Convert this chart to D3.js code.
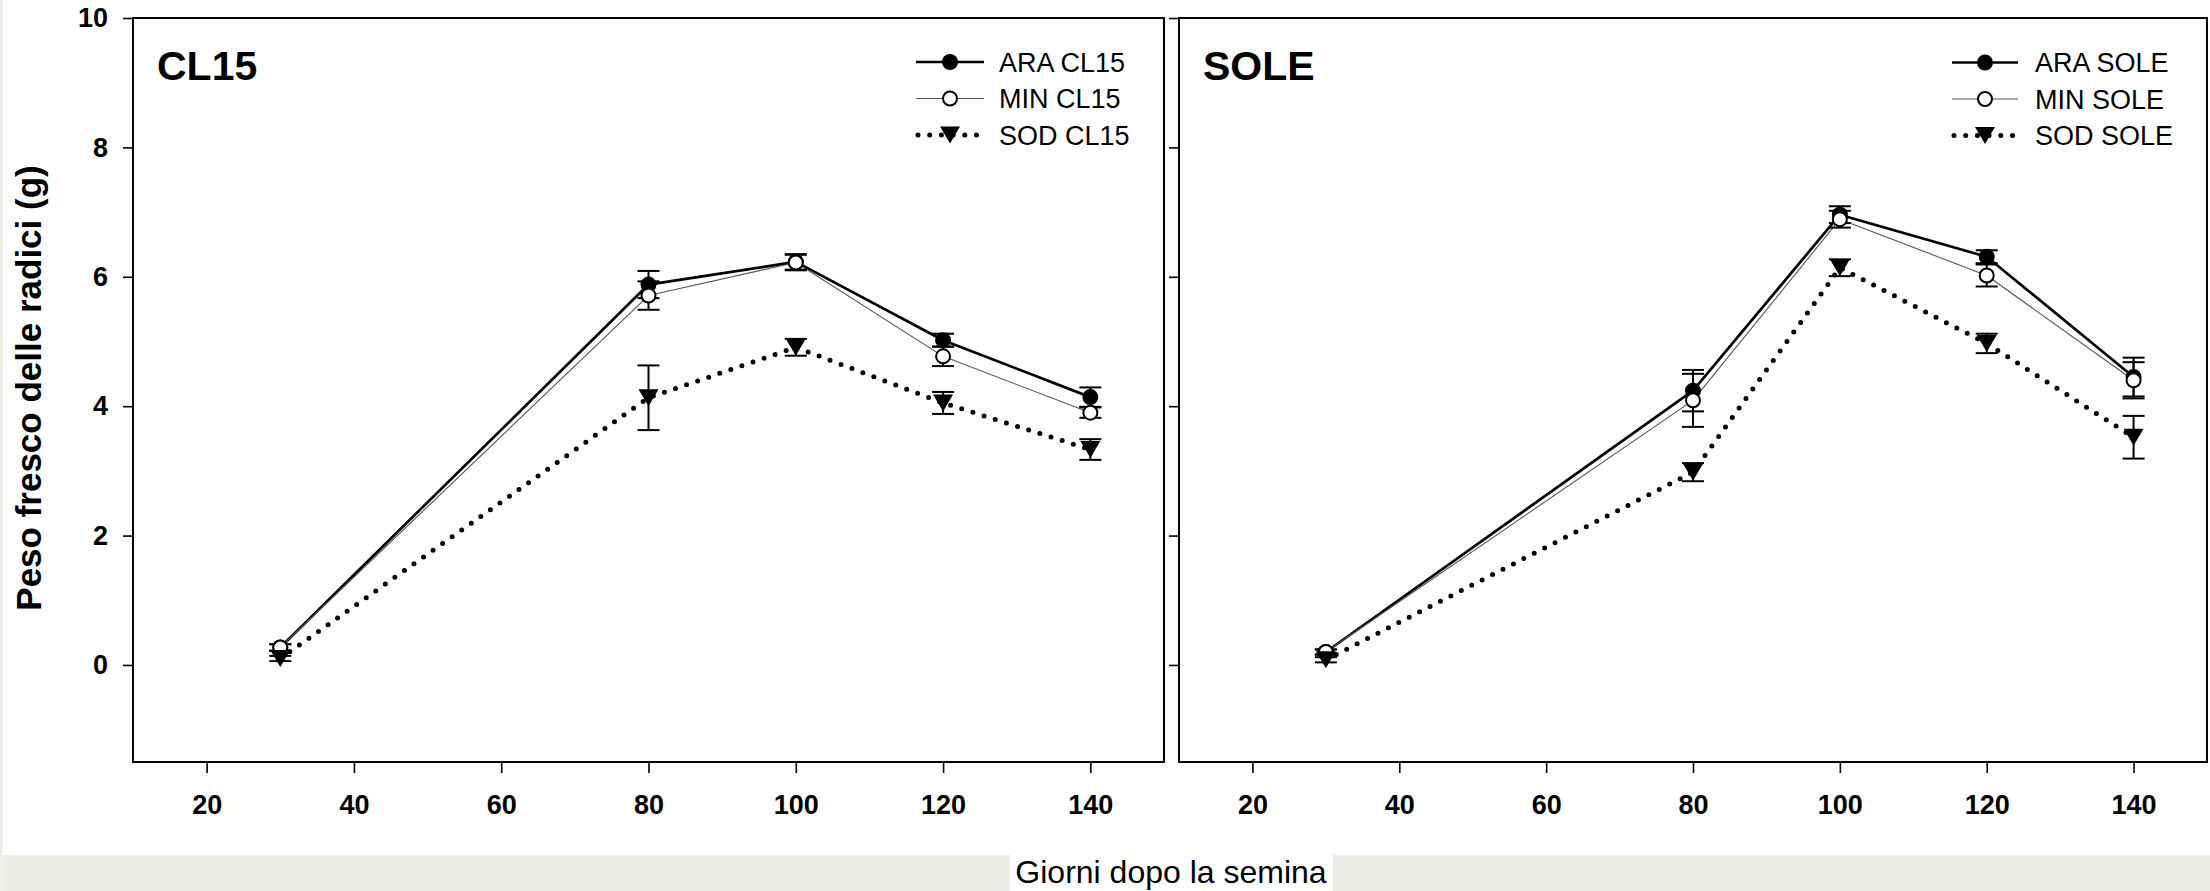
<!DOCTYPE html>
<html>
<head>
<meta charset="utf-8">
<script src="https://d3js.org/d3.v7.min.js"></script>
<style>
  body { margin: 0; background: #fff; }
  text { font-family: "Liberation Sans", Arial, sans-serif; fill: #000; }
</style>
</head>
<body>
<div id="chart"></div>
<script>
var svgWidth = 2210;
var svgHeight = 891;

// values (days after sowing / fresh root weight in g)
var days = [30, 80, 100, 120, 140];
var xTicks = [20, 40, 60, 80, 100, 120, 140];
var yTicks = [0, 2, 4, 6, 8, 10];

var araCL15 = [0.27, 5.88, 6.23, 5.02, 4.14];
var araCL15Err = [0.05, 0.21, 0.12, 0.10, 0.15];
var minCL15 = [0.27, 5.71, 6.22, 4.77, 3.90];
var minCL15Err = [0.05, 0.22, 0.12, 0.15, 0.08];
var sodCL15 = [0.10, 4.13, 4.91, 4.05, 3.33];
var sodCL15Err = [0.04, 0.50, 0.13, 0.17, 0.16];

var araSole = [0.20, 4.24, 6.96, 6.31, 4.45];
var araSoleErr = [0.04, 0.32, 0.13, 0.10, 0.30];
var minSole = [0.20, 4.09, 6.89, 6.02, 4.40];
var minSoleErr = [0.04, 0.41, 0.13, 0.17, 0.28];
var sodSole = [0.08, 2.98, 6.14, 4.97, 3.52];
var sodSoleErr = [0.04, 0.14, 0.13, 0.15, 0.33];

var panelTitles = ["CL15", "SOLE"];
var treatments = ["ARA", "MIN", "SOD"];

var yTitle = "Peso fresco delle radici (g)";
var xTitle = "Giorni dopo la semina";

// layout
var plotTop = 18;
var plotBottom = 762;

var panels = [
  { title: panelTitles[0], left: 133, right: 1164, showLabels: true,
    legendX: [916, 984], legendText: 999, legendY: [62, 98.5, 135],
    series: [
      { name: treatments[0] + " " + panelTitles[0], kind: "ara", values: araCL15, errors: araCL15Err },
      { name: treatments[1] + " " + panelTitles[0], kind: "min", values: minCL15, errors: minCL15Err },
      { name: treatments[2] + " " + panelTitles[0], kind: "sod", values: sodCL15, errors: sodCL15Err }
    ] },
  { title: panelTitles[1], left: 1179, right: 2207, showLabels: false,
    legendX: [1952, 2018], legendText: 2035, legendY: [62.5, 99, 135.5],
    series: [
      { name: treatments[0] + " " + panelTitles[1], kind: "ara", values: araSole, errors: araSoleErr },
      { name: treatments[1] + " " + panelTitles[1], kind: "min", values: minSole, errors: minSoleErr },
      { name: treatments[2] + " " + panelTitles[1], kind: "sod", values: sodSole, errors: sodSoleErr }
    ] }
];

// downward triangle, SigmaPlot style
var triangleDown = {
  draw: function(context) {
    context.moveTo(-10, -8.5);
    context.lineTo(10, -8.5);
    context.lineTo(0, 8.5);
    context.closePath();
  }
};

var styles = {
  ara: { stroke: "#000", width: 2.7, dash: null,
         symbol: d3.symbol(d3.symbolCircle, Math.PI * 64), fill: "#000", mstroke: "none" },
  min: { stroke: "#555", width: 1.1, dash: null,
         symbol: d3.symbol(d3.symbolCircle, Math.PI * 49), fill: "#fff", mstroke: "#000" },
  sod: { stroke: "#000", width: 5, dash: "0,11.7",
         symbol: d3.symbol(triangleDown), fill: "#000", mstroke: "none" }
};

var svg = d3.select("#chart")
    .append("svg")
    .attr("width", svgWidth)
    .attr("height", svgHeight);

svg.append("rect")
  .attr("width", svgWidth)
  .attr("height", svgHeight)
  .attr("fill", "#fff");

// textured strip at the bottom of the slide
svg.append("rect")
  .attr("x", 0)
  .attr("y", 855)
  .attr("width", svgWidth)
  .attr("height", svgHeight - 855)
  .attr("fill", "#ecede6");

svg.append("rect")
  .attr("x", 0)
  .attr("y", 0)
  .attr("width", 3)
  .attr("height", svgHeight)
  .attr("fill", "#efefea");

var yScale = d3.scaleLinear()
    .domain([-1.5, 10])
    .range([plotBottom, plotTop]);

panels.forEach(function(panel) {
  var xScale = d3.scaleLinear()
      .domain([10, 150])
      .range([panel.left, panel.right]);

  var g = svg.append("g");

  // axes
  var leftAxis = d3.axisLeft(yScale)
      .tickValues(yTicks)
      .tickSize(10)
      .tickSizeOuter(0)
      .tickPadding(15)
      .tickFormat(panel.showLabels ? d3.format("d") : "");

  var bottomAxis = d3.axisBottom(xScale)
      .tickValues(xTicks)
      .tickSize(11)
      .tickSizeOuter(0)
      .tickPadding(22);

  var yAxisG = g.append("g")
    .attr("transform", `translate(${panel.left}, 0)`)
    .call(leftAxis);

  var xAxisG = g.append("g")
    .attr("transform", `translate(0, ${plotBottom})`)
    .call(bottomAxis);

  [yAxisG, xAxisG].forEach(function(ax) {
    ax.select(".domain").remove();
    ax.selectAll(".tick line").attr("stroke", "#000").attr("stroke-width", 1.6);
    ax.selectAll(".tick text")
      .attr("fill", "#000")
      .style("font-size", "27px")
      .style("font-weight", "bold");
  });

  // frame
  g.append("rect")
    .attr("x", panel.left)
    .attr("y", plotTop)
    .attr("width", panel.right - panel.left)
    .attr("height", plotBottom - plotTop)
    .attr("fill", "none")
    .attr("stroke", "#000")
    .attr("stroke-width", 2);

  // panel title
  g.append("text")
    .attr("x", panel.left + 24)
    .attr("y", 80)
    .style("font-size", "41px")
    .style("font-weight", "bold")
    .text(panel.title);

  // lines
  var line = d3.line()
      .x(function(d, i) { return xScale(days[i]); })
      .y(function(d) { return yScale(d); });

  panel.series.forEach(function(s) {
    var st = styles[s.kind];
    g.append("path")
      .datum(s.values)
      .attr("d", line)
      .attr("fill", "none")
      .attr("stroke", st.stroke)
      .attr("stroke-width", st.width)
      .attr("stroke-linecap", st.dash ? "round" : "butt")
      .attr("stroke-linejoin", "round")
      .attr("stroke-dasharray", st.dash);
  });

  // error bars and markers
  panel.series.forEach(function(s) {
    var st = styles[s.kind];
    var pts = s.values.map(function(v, i) {
      return { x: days[i], v: v, e: s.errors[i] };
    });

    var eb = g.append("g").selectAll("g").data(pts).enter().append("g");
    eb.append("line")
      .attr("x1", d => xScale(d.x))
      .attr("x2", d => xScale(d.x))
      .attr("y1", d => yScale(d.v - d.e))
      .attr("y2", d => yScale(d.v + d.e))
      .attr("stroke", "#000")
      .attr("stroke-width", 2);
    [-1, 1].forEach(function(sign) {
      eb.append("line")
        .attr("x1", d => xScale(d.x) - 11)
        .attr("x2", d => xScale(d.x) + 11)
        .attr("y1", d => yScale(d.v + sign * d.e))
        .attr("y2", d => yScale(d.v + sign * d.e))
        .attr("stroke", "#000")
        .attr("stroke-width", 2);
    });

    g.append("g").selectAll("path").data(pts).enter()
      .append("path")
      .attr("d", st.symbol)
      .attr("transform", d => `translate(${xScale(d.x)}, ${yScale(d.v)})`)
      .attr("fill", st.fill)
      .attr("stroke", st.mstroke)
      .attr("stroke-width", 2);
  });

  // legend
  var legend = g.append("g");
  panel.series.forEach(function(s, i) {
    var st = styles[s.kind];
    var ly = panel.legendY[i];
    var mx = (panel.legendX[0] + panel.legendX[1]) / 2;
    legend.append("line")
      .attr("x1", panel.legendX[0] + (st.dash ? 2 : 0))
      .attr("x2", panel.legendX[1])
      .attr("y1", ly)
      .attr("y2", ly)
      .attr("stroke", st.stroke)
      .attr("stroke-width", st.width)
      .attr("stroke-linecap", st.dash ? "round" : "butt")
      .attr("stroke-dasharray", st.dash);
    legend.append("path")
      .attr("d", st.symbol)
      .attr("transform", `translate(${mx}, ${ly})`)
      .attr("fill", st.fill)
      .attr("stroke", st.mstroke)
      .attr("stroke-width", 2);
    legend.append("text")
      .attr("x", panel.legendText)
      .attr("y", ly + 9.6)
      .style("font-size", "27px")
      .text(s.name);
  });
});

// axis titles
svg.append("text")
  .attr("transform", "translate(41, 388) rotate(-90)")
  .attr("text-anchor", "middle")
  .style("font-size", "35px")
  .style("font-weight", "bold")
  .text(yTitle);

svg.append("rect")
  .attr("x", 1010)
  .attr("y", 855)
  .attr("width", 323)
  .attr("height", svgHeight - 855)
  .attr("fill", "#fff");

svg.append("text")
  .attr("x", 1171)
  .attr("y", 883)
  .attr("text-anchor", "middle")
  .style("font-size", "32px")
  .text(xTitle);
</script>
</body>
</html>
